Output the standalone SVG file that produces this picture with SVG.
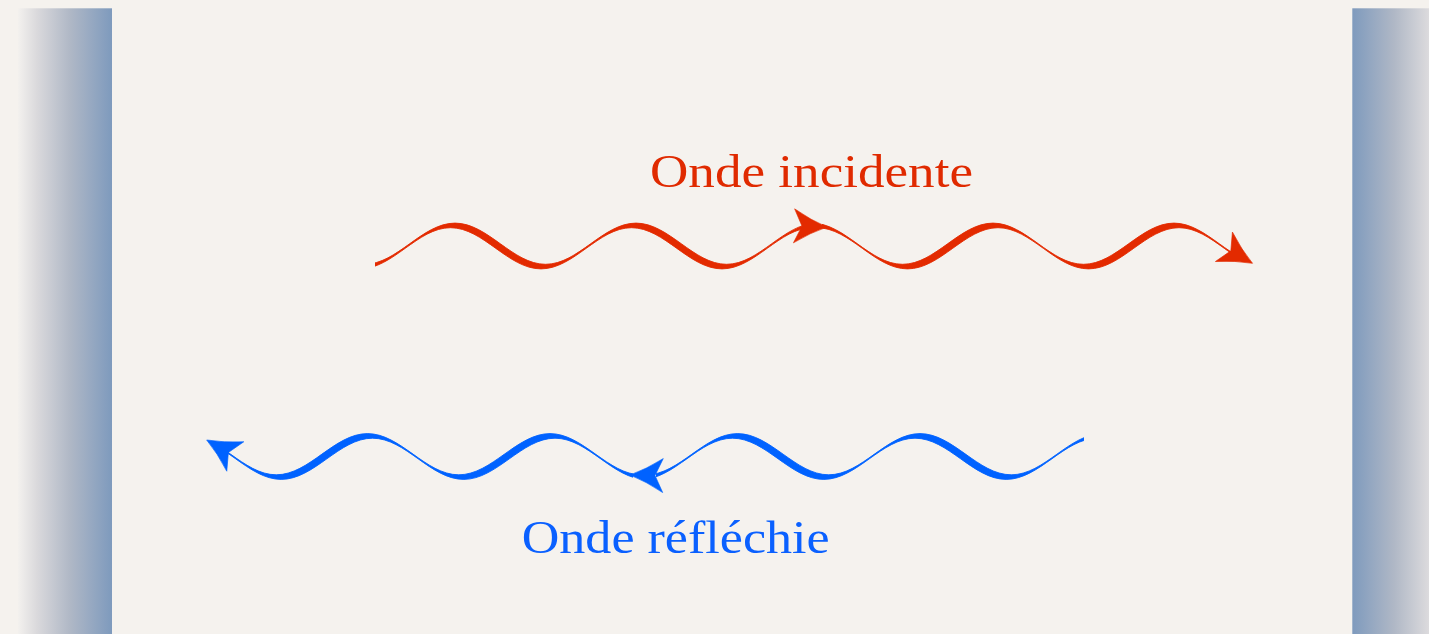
<svg xmlns="http://www.w3.org/2000/svg" xmlns:xlink="http://www.w3.org/1999/xlink" width="1429" height="634" viewBox="0 0 1429 634">
  <style>
    .label { font-family: "Liberation Serif", "DejaVu Serif", serif; font-size: 47px; }
    .red { fill: #E32A00; stroke: #E32A00; }
    .blue { fill: #0062FF; stroke: #0062FF; }
    .wave { stroke-width: 0.9; stroke-linejoin: round; }
    .head { stroke-width: 0.6; stroke-linejoin: round; }
    .txt-red { fill: #E02A00; }
    .txt-blue { fill: #0A60FF; }
  </style>
  <defs>
    <!-- wall shading: pale on the outside, steel blue towards the gap -->
    <linearGradient id="wallL" gradientUnits="userSpaceOnUse" x1="18" y1="0" x2="112" y2="0">
      <stop offset="0" stop-color="#F3F1EE"/>
      <stop offset="0.2" stop-color="#DAD9DC"/>
      <stop offset="0.55" stop-color="#B0B8C6"/>
      <stop offset="1" stop-color="#7E9ABD"/>
    </linearGradient>
    <linearGradient id="wallR" gradientUnits="userSpaceOnUse" x1="1352" y1="0" x2="1446" y2="0">
      <stop offset="0" stop-color="#7E9ABD"/>
      <stop offset="0.45" stop-color="#B0B8C6"/>
      <stop offset="0.8" stop-color="#DAD9DC"/>
      <stop offset="1" stop-color="#F3F1EE"/>
    </linearGradient>
    <!-- notched arrowhead pointing along +x, tip at the origin -->
    <path id="arrowhead" d="M0,0 Q-16,-6 -33,-17 L-25,0 L-33,17 Q-16,6 0,0 Z"/>
    <clipPath id="clipIncA"><rect x="375" y="190" width="437" height="100"/></clipPath>
    <clipPath id="clipIncB"><rect x="822" y="190" width="418" height="100"/></clipPath>
    <clipPath id="clipRefA"><rect x="220" y="400" width="413" height="100"/></clipPath>
    <clipPath id="clipRefB"><rect x="656" y="400" width="428" height="100"/></clipPath>
  </defs>

  <!-- paper -->
  <rect x="0" y="0" width="1429" height="634" fill="#F5F2EE"/>

  <!-- side walls -->
  <g id="wall-left">
    <rect x="18" y="8.3" width="94" height="626" fill="url(#wallL)"/>
  </g>
  <g id="wall-right">
    <rect x="1352.3" y="8.3" width="94" height="626" fill="url(#wallR)"/>
  </g>

  <!-- labels -->
  <g id="label-incident">
    <text class="label txt-red" x="650" y="186.7" textLength="323" lengthAdjust="spacingAndGlyphs">Onde incidente</text>
  </g>
  <g id="label-reflected">
    <text class="label txt-blue" x="521.7" y="553.3" textLength="308" lengthAdjust="spacingAndGlyphs">Onde réfléchie</text>
  </g>

  <!-- waves: each band lies between two phase-shifted sinusoids -->
  <g id="connectors">
    <g id="wave-incident">
      <path class="red wave" clip-path="url(#clipIncA)" d="M364.5,264.3 C397.4,264.3 422.1,223.1 455,223.1 S512.6,264.3 545.5,264.3 S603.1,223.1 636,223.1 S693.6,264.3 726.5,264.3 S784.1,223.1 817,223.1 L812.5,227.7 C779.6,227.7 754.9,268.9 722,268.9 S664.4,227.7 631.5,227.7 S573.9,268.9 541,268.9 S483.4,227.7 450.5,227.7 S392.9,268.9 360,268.9 Z"/>
      <path class="red wave" clip-path="url(#clipIncB)" d="M812,223.1 C844.9,223.1 869.6,264.3 902.5,264.3 S960.1,223.1 993,223.1 S1050.6,264.3 1083.5,264.3 S1141.1,223.1 1174,223.1 S1231.6,264.3 1264.5,264.3 L1269.5,268.9 C1236.6,268.9 1211.9,227.7 1179,227.7 S1121.4,268.9 1088.5,268.9 S1030.9,227.7 998,227.7 S940.4,268.9 907.5,268.9 S849.9,227.7 817,227.7 Z"/>
      <use class="red head" xlink:href="#arrowhead" href="#arrowhead" transform="translate(827,227) rotate(2)"/>
      <use class="red head" xlink:href="#arrowhead" href="#arrowhead" transform="translate(1252.5,263.3) rotate(30)"/>
    </g>
    <g id="wave-reflected">
      <path class="blue wave" clip-path="url(#clipRefA)" d="M185,433.6 C218.2,433.6 243.05,474.8 276.25,474.8 S334.3,433.6 367.5,433.6 S425.55,474.8 458.75,474.8 S516.8,433.6 550,433.6 S608.05,474.8 641.25,474.8 L646.25,479.4 C613.05,479.4 588.2,438.2 555,438.2 S496.95,479.4 463.75,479.4 S405.7,438.2 372.5,438.2 S314.45,479.4 281.25,479.4 S223.2,438.2 190,438.2 Z"/>
      <path class="blue wave" clip-path="url(#clipRefB)" d="M646.25,474.8 C679.45,474.8 704.3,433.6 737.5,433.6 S795.55,474.8 828.75,474.8 S886.8,433.6 920,433.6 S978.05,474.8 1011.25,474.8 S1069.3,433.6 1102.5,433.6 L1097.5,438.2 C1064.3,438.2 1039.45,479.4 1006.25,479.4 S948.2,438.2 915,438.2 S856.95,479.4 823.75,479.4 S765.7,438.2 732.5,438.2 S674.45,479.4 641.25,479.4 Z"/>
      <use class="blue head" xlink:href="#arrowhead" href="#arrowhead" transform="translate(630,475) rotate(181)"/>
      <use class="blue head" xlink:href="#arrowhead" href="#arrowhead" transform="translate(206.7,440) rotate(210)"/>
    </g>
  </g>
</svg>
